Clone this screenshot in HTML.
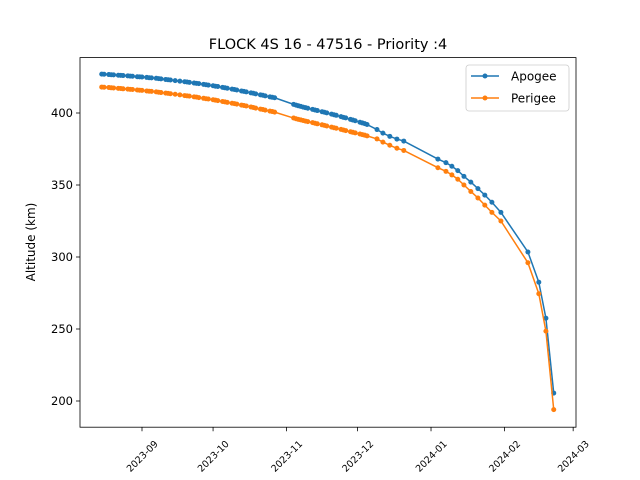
<!DOCTYPE html>
<html><head><meta charset="utf-8"><style>
body{margin:0;background:#fff}
svg{display:block;font-family:"DejaVu Sans","Liberation Sans",sans-serif}
</style></head><body>
<svg id="chart" width="640" height="480" viewBox="0 0 640 480"></svg>
<script>
const tickLabels = ["2023-09","2023-10","2023-11","2023-12","2024-01","2024-02","2024-03"];
const tickDays = [0,30,61,91,122,153,182];
const yTicks = [200,250,300,350,400];
const days = [-17,-16,-14,-13,-12,-10,-9,-8,-6,-5,-4,-2,-1,0,2,3,4,6,7,8,10,11,12,14,16,18,19,20,22,23,24,26,27,28,30,31,32,34,35,36,38,39,40,42,43,44,46,47,48,50,51,52,54,55,56,
64,65,66,67,68,69,70,72,73,74,76,77,78,80,81,82,84,85,86,88,89,90,92,93,94,95,
99.2,101.7,104.6,107.6,110.5,124.9,128.3,130.8,133.3,135.9,138.8,141.8,144.7,147.7,151.5,162.9,167.5,170.5,173.8];
const apogee = [427.0,426.9,426.7,426.6,426.5,426.2,426.1,426.0,425.8,425.6,425.5,425.2,425.1,425.0,424.7,424.5,424.4,424.1,423.9,423.7,423.3,423.1,422.9,422.5,422.1,421.7,421.5,421.3,420.8,420.6,420.4,419.9,419.6,419.4,418.9,418.6,418.4,417.8,417.5,417.2,416.6,416.3,416.0,415.3,415.0,414.7,414.0,413.7,413.3,412.6,412.3,411.9,411.2,410.9,410.6,
406.0,405.5,405.0,404.6,404.1,403.7,403.3,402.5,402.1,401.7,400.9,400.5,400.1,399.2,398.8,398.4,397.5,397.0,396.6,395.6,395.1,394.6,393.6,393.1,392.6,392.0,
388.5,386.0,383.8,381.9,380.5,368.0,365.5,363.0,360.0,356.0,352.0,347.5,343.0,338.0,331.0,303.5,282.5,257.5,205.5];
const perigee = [418.0,417.9,417.7,417.5,417.4,417.1,417.0,416.8,416.6,416.4,416.3,416.0,415.8,415.7,415.3,415.1,415.0,414.7,414.4,414.2,413.8,413.6,413.4,413.0,412.6,412.1,411.9,411.7,411.2,411.0,410.7,410.2,409.9,409.7,409.2,408.9,408.6,408.0,407.7,407.4,406.8,406.5,406.2,405.5,405.2,404.9,404.2,403.8,403.4,402.7,402.4,402.0,401.3,401.0,400.6,
396.5,396.0,395.6,395.2,394.8,394.4,394.0,393.3,392.9,392.5,391.8,391.4,391.0,390.2,389.8,389.4,388.6,388.2,387.8,387.0,386.6,386.2,385.4,385.0,384.6,384.1,
382.0,379.8,377.6,375.5,374.0,362.0,359.5,357.0,354.0,350.0,345.5,341.0,336.0,331.0,325.0,296.0,274.5,248.5,194.0];

const NS="http://www.w3.org/2000/svg";
const svg=document.getElementById('chart');
const L=80,R=576,T=57.6,B=427.2;
const x=d=>142+d*2.369;
const y=v=>401-(v-200)*1.44;
function mk(tag,attrs,parent){const e=document.createElementNS(NS,tag);for(const k in attrs)e.setAttribute(k,attrs[k]);(parent||svg).appendChild(e);return e;}

const title=mk('text',{x:328,y:49,'text-anchor':'middle','font-size':14.5,fill:'#000'});


title.textContent='FLOCK 4S 16 - 47516 - Priority :4';

const yl=mk('text',{x:0,y:0,'text-anchor':'middle','font-size':12,transform:'translate(35,242) rotate(-90)'});


yl.textContent='Altitude (km)';

yTicks.forEach(v=>{
  mk('line',{x1:L-4,x2:L,y1:y(v),y2:y(v),stroke:'#000','stroke-width':0.8});
  const t=mk('text',{x:L-7,y:y(v)+4,'text-anchor':'end','font-size':11.5});
  
  
  t.textContent=v;
});
tickDays.forEach((d,i)=>{
  const xx=x(d);
  mk('line',{x1:xx,x2:xx,y1:B,y2:B+4,stroke:'#000','stroke-width':0.8});
  const t=mk('text',{x:0,y:3.5,'text-anchor':'middle','font-size':9.5,transform:`translate(${xx},${456}) rotate(-45)`});
  
  
  t.textContent=tickLabels[i];
});

function series(vals,color,name){
  const g=mk('g',{});
  
  
  mk('polyline',{points:days.map((d,i)=>x(d)+','+y(vals[i])).join(' '),fill:'none',stroke:color,'stroke-width':1.5},g);
  days.forEach((d,i)=>{
    const c=mk('circle',{cx:x(d),cy:y(vals[i]),r:2.5,fill:color},g);
    
    
  });
}
series(apogee,'#1f77b4','apogee');
series(perigee,'#ff7f0e','perigee');

const frame=mk('rect',{x:L,y:T,width:R-L,height:B-T,fill:'none',stroke:'#000','stroke-width':0.8});



const lg=mk('g',{});


mk('rect',{x:466,y:65,width:103,height:46,rx:3,fill:'#fff',stroke:'#ccc','stroke-width':0.8},lg);
[['Apogee','#1f77b4',76],['Perigee','#ff7f0e',98]].forEach(([n,c,yy])=>{
  const e=mk('g',{},lg);
  
  
  mk('line',{x1:471,x2:499,y1:yy,y2:yy,stroke:c,'stroke-width':1.5},e);
  mk('circle',{cx:485,cy:yy,r:2.5,fill:c},e);
  const t=mk('text',{x:511,y:yy+4.5,'font-size':12},e);
  t.textContent=n;
});
</script>
</body></html>
